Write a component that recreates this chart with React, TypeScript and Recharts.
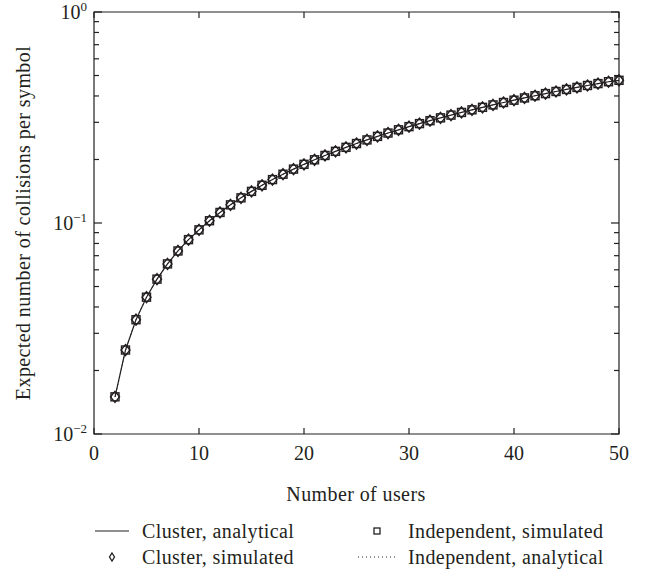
import { LineChart, Line, XAxis, YAxis, ReferenceArea } from 'recharts'

const INK = '#231f20'
const FONT = '"Liberation Serif", "DejaVu Serif", serif'

// number of users on the x axis
const users = [2, 3, 4, 5, 6, 7, 8, 9, 10, 11, 12, 13, 14, 15, 16, 17, 18, 19, 20, 21, 22, 23, 24, 25, 26, 27, 28, 29, 30, 31, 32, 33, 34, 35, 36, 37, 38, 39, 40, 41, 42, 43, 44, 45, 46, 47, 48, 49, 50]

// expected number of collisions per symbol (all four curves lie on top of each other)
const clusterAnalytical = [0.0150, 0.0250, 0.0348, 0.0445, 0.0542, 0.0640, 0.0737, 0.0834, 0.0928, 0.1025, 0.1122, 0.1219, 0.1316, 0.1412, 0.1509, 0.1606, 0.1703, 0.1800, 0.1897, 0.1993, 0.2090, 0.2186, 0.2283, 0.2380, 0.2476, 0.2573, 0.2669, 0.2765, 0.2862, 0.2958, 0.3054, 0.3150, 0.3246, 0.3342, 0.3438, 0.3533, 0.3629, 0.3724, 0.3820, 0.3915, 0.4010, 0.4105, 0.4200, 0.4295, 0.4390, 0.4484, 0.4578, 0.4672, 0.4745]
const clusterSimulated = [0.0150, 0.0250, 0.0348, 0.0445, 0.0542, 0.0640, 0.0737, 0.0834, 0.0928, 0.1025, 0.1122, 0.1219, 0.1316, 0.1412, 0.1509, 0.1606, 0.1703, 0.1800, 0.1897, 0.1993, 0.2090, 0.2186, 0.2283, 0.2380, 0.2476, 0.2573, 0.2669, 0.2765, 0.2862, 0.2958, 0.3054, 0.3150, 0.3246, 0.3342, 0.3438, 0.3533, 0.3629, 0.3724, 0.3820, 0.3915, 0.4010, 0.4105, 0.4200, 0.4295, 0.4390, 0.4484, 0.4578, 0.4672, 0.4745]
const independentSimulated = [0.0150, 0.0250, 0.0348, 0.0445, 0.0542, 0.0640, 0.0737, 0.0834, 0.0928, 0.1025, 0.1122, 0.1219, 0.1316, 0.1412, 0.1509, 0.1606, 0.1703, 0.1800, 0.1897, 0.1993, 0.2090, 0.2186, 0.2283, 0.2380, 0.2476, 0.2573, 0.2669, 0.2765, 0.2862, 0.2958, 0.3054, 0.3150, 0.3246, 0.3342, 0.3438, 0.3533, 0.3629, 0.3724, 0.3820, 0.3915, 0.4010, 0.4105, 0.4200, 0.4295, 0.4390, 0.4484, 0.4578, 0.4672, 0.4745]
const independentAnalytical = [0.0150, 0.0250, 0.0348, 0.0445, 0.0542, 0.0640, 0.0737, 0.0834, 0.0928, 0.1025, 0.1122, 0.1219, 0.1316, 0.1412, 0.1509, 0.1606, 0.1703, 0.1800, 0.1897, 0.1993, 0.2090, 0.2186, 0.2283, 0.2380, 0.2476, 0.2573, 0.2669, 0.2765, 0.2862, 0.2958, 0.3054, 0.3150, 0.3246, 0.3342, 0.3438, 0.3533, 0.3629, 0.3724, 0.3820, 0.3915, 0.4010, 0.4105, 0.4200, 0.4295, 0.4390, 0.4484, 0.4578, 0.4672, 0.4745]

const xTicks = [0, 10, 20, 30, 40, 50]
const yMajorTicks = [0.01, 0.1, 1]
const yTicks = [0.01, 0.02, 0.03, 0.04, 0.05, 0.06, 0.07, 0.08, 0.09, 0.1, 0.2, 0.3, 0.4, 0.5, 0.6, 0.7, 0.8, 0.9, 1]

const xTitle = 'Number of users'
const yTitle = 'Expected number of collisions per symbol'
const legendItems = [
  { label: 'Cluster, analytical', symbol: 'line' },
  { label: 'Independent, simulated', symbol: 'square' },
  { label: 'Cluster, simulated', symbol: 'diamond' },
  { label: 'Independent, analytical', symbol: 'dotted' },
]

const rows = users.map((u, i) => ({
  users: u,
  clusterAnalytical: clusterAnalytical[i],
  clusterSimulated: clusterSimulated[i],
  independentSimulated: independentSimulated[i],
  independentAnalytical: independentAnalytical[i],
}))

// chart box
const W = 654
const H = 573
const MARGIN = { top: 12, right: 35, bottom: 138, left: 93 }
const PLOT_TOP = MARGIN.top
const PLOT_RIGHT = W - MARGIN.right

const isMajor = (v: number) => yMajorTicks.some(m => Math.abs(m - v) < 1e-9)
const textStyle = { fontSize: 20, lineHeight: '20px', letterSpacing: '0.4px', whiteSpace: 'nowrap' as const }

// y ticks point inwards on both the left and the right frame edge
const LeftTick = ({ x, y, payload }: any) => {
  const v = payload.value
  const major = isMajor(v)
  const len = major ? 8 : 5
  const exp = Math.round(Math.log10(v))
  return (
    <g>
      <line x1={x} x2={x + len} y1={y} y2={y} stroke={INK} strokeWidth={1.2} />
      <line x1={PLOT_RIGHT} x2={PLOT_RIGHT - len} y1={y} y2={y} stroke={INK} strokeWidth={1.2} />
      {major && (
        <text x={x - 7} y={y + 7} textAnchor="end" fontFamily={FONT} fontSize={20} fill={INK}>
          10<tspan dy={-8} fontSize={13}>{exp < 0 ? `\u2212${-exp}` : `${exp}`}</tspan>
        </text>
      )}
    </g>
  )
}

const BottomTick = ({ x, y, payload }: any) => (
  <g>
    <line x1={x} x2={x} y1={y} y2={y - 6} stroke={INK} strokeWidth={1.2} />
    <line x1={x} x2={x} y1={PLOT_TOP} y2={PLOT_TOP + 6} stroke={INK} strokeWidth={1.2} />
    <text x={x} y={y + 26} textAnchor="middle" fontFamily={FONT} fontSize={20} fill={INK}>{payload.value}</text>
  </g>
)

const DiamondDot = (props: any) => {
  const { cx, cy, index } = props
  if (cx == null || cy == null) return <g key={`d${index}`} />
  return <path key={`d${index}`} d={`M${cx},${cy - 5.5}L${cx + 4.5},${cy}L${cx},${cy + 5.5}L${cx - 4.5},${cy}Z`} fill="none" stroke={INK} strokeWidth={1.4} />
}

const SquareDot = (props: any) => {
  const { cx, cy, index } = props
  if (cx == null || cy == null) return <g key={`s${index}`} />
  return <rect key={`s${index}`} x={cx - 4} y={cy - 4} width={8} height={8} fill="none" stroke={INK} strokeWidth={1.4} />
}

function LegendSymbol({ kind }: { kind: string }) {
  return (
    <svg width={40} height={14} style={{ display: 'block' }}>
      {kind === 'line' && <line x1={3} x2={37} y1={7} y2={7} stroke={INK} strokeWidth={1.2} />}
      {kind === 'dotted' && <line x1={1} x2={38} y1={7} y2={7} stroke={INK} strokeWidth={1} strokeDasharray="1 3" />}
      {kind === 'diamond' && <path d="M20,3L22.5,7L20,11L17.5,7Z" fill="none" stroke={INK} strokeWidth={1.3} />}
      {kind === 'square' && <rect x={17} y={4} width={6} height={6} fill="none" stroke={INK} strokeWidth={1.3} />}
    </svg>
  )
}

export default function App() {
  const cols = [{ sym: 112, text: 142 }, { sym: 377, text: 408 }]
  const rowsY = [531, 557]
  return (
    <div style={{ position: 'absolute', left: 0, top: 0, width: W, height: H, background: '#fff', fontFamily: FONT, color: INK }}>
      <LineChart width={W} height={H} data={rows} margin={MARGIN}>
        <XAxis dataKey="users" type="number" domain={[0, 50]} ticks={xTicks} interval={0} height={1} tickSize={0} tickMargin={0} tick={BottomTick} axisLine={false} tickLine={false} />
        <YAxis scale="log" domain={[0.01, 1]} ticks={yTicks} interval={0} width={1} tickSize={0} tickMargin={0} tick={LeftTick} axisLine={false} tickLine={false} allowDataOverflow />
        <ReferenceArea x1={0} x2={50} y1={0.01} y2={1} fill="none" stroke={INK} strokeWidth={1.2} />
        <Line dataKey="independentAnalytical" stroke={INK} strokeWidth={1} strokeDasharray="1 3" dot={false} activeDot={false} isAnimationActive={false} />
        <Line dataKey="clusterAnalytical" stroke={INK} strokeWidth={1.2} dot={false} activeDot={false} isAnimationActive={false} />
        <Line dataKey="independentSimulated" stroke="none" dot={SquareDot} activeDot={false} isAnimationActive={false} />
        <Line dataKey="clusterSimulated" stroke="none" dot={DiamondDot} activeDot={false} isAnimationActive={false} />
      </LineChart>

      <div style={{ ...textStyle, position: 'absolute', left: 156, top: 484, width: 400, textAlign: 'center' }}>{xTitle}</div>
      <div style={{ ...textStyle, position: 'absolute', left: 23 - 200, top: 223 - 10, width: 400, textAlign: 'center', transform: 'rotate(-90deg)', transformOrigin: 'center' }}>{yTitle}</div>

      {legendItems.map((item, i) => {
        const c = cols[i % 2]
        const y = rowsY[Math.floor(i / 2)]
        return (
          <div key={item.label}>
            <div style={{ position: 'absolute', left: c.sym - 20, top: y - 7 }}>
              <LegendSymbol kind={item.symbol} />
            </div>
            <div style={{ ...textStyle, position: 'absolute', left: c.text, top: y - 10 }}>{item.label}</div>
          </div>
        )
      })}
    </div>
  )
}
